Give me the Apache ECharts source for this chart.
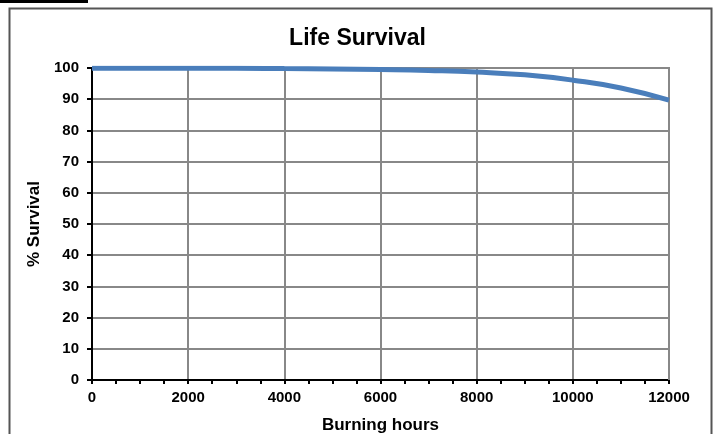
<!DOCTYPE html>
<html>
<head>
<meta charset="utf-8">
<script src="https://cdn.jsdelivr.net/npm/echarts@6/dist/echarts.min.js"></script>
<style>
  html, body { margin: 0; padding: 0; background: #fff; }
  #chart { width: 715px; height: 434px; }
</style>
</head>
<body>
<div id="chart"></div>
<script>
// burning hours vs % survival
var hours = [0, 1000, 2000, 3000, 4000, 5000, 6000, 7000, 8000, 9000, 10000, 11000, 12000];
var survival = [99.9, 99.9, 99.9, 99.9, 99.8, 99.7, 99.5, 99.2, 98.7, 97.8, 96.1, 93.6, 89.7];

var chart = echarts.init(document.getElementById('chart'));
var font = 'Liberation Sans, Arial, sans-serif';

chart.setOption({
  animation: false,
  title: {
    text: 'Life Survival',
    left: 'center',
    top: 22,
    textStyle: { fontFamily: font, fontSize: 23, fontWeight: 'bold', color: '#000' }
  },
  graphic: [
    { type: 'rect', shape: { x: 9.5, y: 8.5, width: 702, height: 440 },
      style: { fill: 'none', stroke: '#555', lineWidth: 2 } },
    { type: 'rect', shape: { x: 0, y: 0, width: 88, height: 3 }, style: { fill: '#000' } },
    // top and right edge of plot area
    { type: 'polyline', shape: { points: [[92, 68], [669, 68], [669, 380]] },
      style: { stroke: '#888', lineWidth: 2, fill: 'none' }, z: 1 }
  ],
  grid: { left: 92, right: 46, top: 68, bottom: 54, outerBoundsMode: 'none', containLabel: false },
  xAxis: {
    type: 'value',
    min: 0, max: 12000, interval: 2000,
    name: 'Burning hours',
    nameLocation: 'middle',
    nameGap: 37,
    nameTextStyle: { fontFamily: font, fontSize: 17, fontWeight: 'bold', color: '#000' },
    axisLine: { lineStyle: { color: '#000', width: 2 } },
    axisTick: { show: true, length: 4, lineStyle: { color: '#000', width: 2 } },
    minorTick: { show: true, splitNumber: 4, length: 4, lineStyle: { color: '#000', width: 2 } },
    axisLabel: { fontFamily: font, fontSize: 15, fontWeight: 'bold', color: '#000', margin: 10,
      formatter: function (v) { return String(v); } },
    splitLine: { show: true, lineStyle: { color: '#888', width: 2 } }
  },
  yAxis: {
    type: 'value',
    min: 0, max: 100, interval: 10,
    name: '% Survival',
    nameLocation: 'middle',
    nameGap: 47,
    nameTextStyle: { fontFamily: font, fontSize: 17, fontWeight: 'bold', color: '#000' },
    axisLine: { show: true, lineStyle: { color: '#000', width: 2 } },
    axisTick: { show: true, length: 5, lineStyle: { color: '#000', width: 2 } },
    axisLabel: { fontFamily: font, fontSize: 15, fontWeight: 'bold', color: '#000', margin: 13 },
    splitLine: { show: true, lineStyle: { color: '#888', width: 2 } }
  },
  series: [{
    type: 'line',
    data: hours.map(function (h, i) { return [h, survival[i]]; }),
    smooth: true,
    showSymbol: false,
    lineStyle: { color: '#4a7ebb', width: 5 },
    z: 3
  }]
});
</script>
</body>
</html>
